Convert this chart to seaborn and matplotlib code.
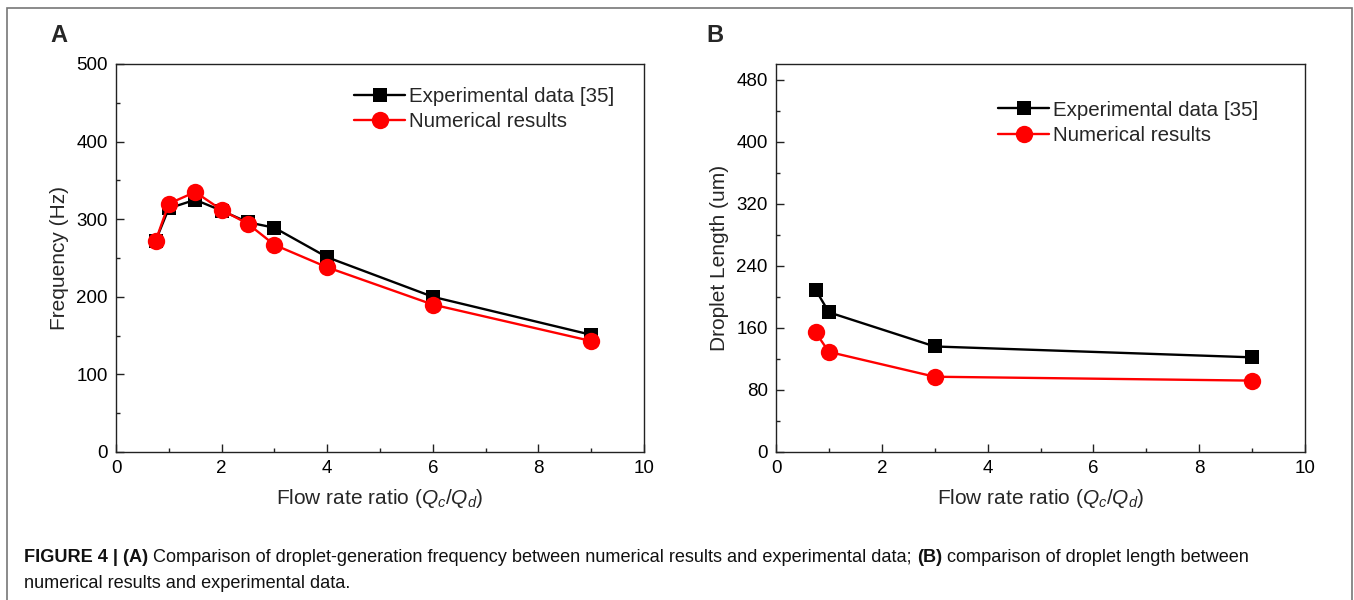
import numpy as np
import pandas as pd
import matplotlib
matplotlib.use("Agg")
import matplotlib.pyplot as plt
from matplotlib.lines import Line2D
from matplotlib.patches import Rectangle
from matplotlib.ticker import MultipleLocator
import seaborn as sns

# -------------------------------
# Data
# -------------------------------
ratio_a = [0.75, 1, 1.5, 2, 2.5, 3, 4, 6, 9]
freq_exp = [272, 314, 325, 311, 296, 289, 251, 200, 151]
freq_num = [272, 320, 335, 312, 294, 267, 238, 190, 143]

ratio_b = [0.75, 1, 3, 9]
length_exp = [209, 180, 136, 122]
length_num = [154, 129, 97, 92]

exp_label = "Experimental data [35]"
num_label = "Numerical results"

# -------------------------------
# Style
# -------------------------------
sns.set_style("ticks")
plt.rcParams["font.family"] = ["Liberation Sans", "DejaVu Sans"]
plt.rcParams["mathtext.fontset"] = "custom"
plt.rcParams["mathtext.rm"] = "Liberation Sans"
plt.rcParams["mathtext.it"] = "Liberation Sans:italic"
plt.rcParams["axes.linewidth"] = 1.0
plt.rcParams["axes.edgecolor"] = "#222222"

colors = {exp_label: "black", num_label: "#ff0000"}
markers = {exp_label: "s", num_label: "o"}
msize = {"s": 10.5, "o": 12.5}

fig = plt.figure(figsize=(13.54, 6.0), dpi=100)
W, H = 1354, 600

# outer figure frame
fig.patches.append(Rectangle((7 / W, -0.01), (1352 - 7) / W, 1 - 8 / H + 0.01,
                             transform=fig.transFigure, fill=False,
                             edgecolor="#777777", linewidth=1.2))


def make_df(x, y_exp, y_num, col):
    return pd.concat([
        pd.DataFrame({"x": x, col: y_exp, "series": exp_label}),
        pd.DataFrame({"x": x, col: y_num, "series": num_label}),
    ], ignore_index=True)


def draw_panel(rect, df, col, ylabel, yticks, yminor, letter, letter_x, leg_anchor):
    ax = fig.add_axes(rect)
    sns.lineplot(data=df, x="x", y=col, hue="series", style="series",
                 palette=colors, markers=markers, dashes=False,
                 markersize=11, markeredgewidth=0, linewidth=1.7,
                 legend=False, ax=ax)
    for ln in ax.lines:
        ln.set_markersize(msize.get(ln.get_marker(), 11))
    ax.set_xlim(0, 10)
    ax.set_ylim(0, 500)
    ax.set_xticks([0, 2, 4, 6, 8, 10])
    ax.xaxis.set_minor_locator(MultipleLocator(1))
    ax.set_yticks(yticks)
    ax.yaxis.set_minor_locator(MultipleLocator(yminor))
    ax.tick_params(which="major", direction="in", length=6, width=1, labelsize=13.5,
                   pad=6, colors="#222222", labelcolor="black")
    ax.tick_params(which="minor", direction="in", length=3, width=1, colors="#222222")
    ax.set_xlabel(r"Flow rate ratio ($Q_c$/$Q_d$)", fontsize=15, labelpad=7)
    ax.set_ylabel(ylabel, fontsize=15, labelpad=5)
    for s in ax.spines.values():
        s.set_visible(True)
    handles = [
        Line2D([], [], color="black", marker="s", markersize=msize["s"], markeredgewidth=0, linewidth=1.7),
        Line2D([], [], color="#ff0000", marker="o", markersize=msize["o"], markeredgewidth=0, linewidth=1.7),
    ]
    ax.legend(handles, [exp_label, num_label], loc="upper right", bbox_to_anchor=leg_anchor,
              frameon=False, fontsize=14.8, handlelength=2.5, handletextpad=0.2,
              labelspacing=0.3, borderaxespad=0)
    fig.text(letter_x / W, 1 - 36 / H, letter, fontsize=17, fontweight="bold",
             ha="left", va="center")
    return ax


ax_a = draw_panel([116 / W, 1 - 452 / H, (644 - 116) / W, (452 - 64) / H],
                  make_df(ratio_a, freq_exp, freq_num, "freq"), "freq",
                  "Frequency (Hz)", [0, 100, 200, 300, 400, 500], 50, "A", 50,
                  (0.96, 0.962))
ax_b = draw_panel([776 / W, 1 - 452 / H, (1305 - 776) / W, (452 - 64) / H],
                  make_df(ratio_b, length_exp, length_num, "length"), "length",
                  "Droplet Length (um)", [0, 80, 160, 240, 320, 400, 480], 40, "B", 706,
                  (0.928, 0.927))

# -------------------------------
# Caption with mixed bold / regular runs
# -------------------------------
cap_size = 13.1
cap_color = "#111111"
runs = [("FIGURE 4 | (A)", "bold"),
        (" Comparison of droplet-generation frequency between numerical results and experimental data; ", "normal"),
        ("(B)", "bold"),
        (" comparison of droplet length between", "normal")]
prev = fig.text(24 / W, 1 - 557 / H, runs[0][0], fontsize=cap_size, fontweight=runs[0][1],
                ha="left", va="center", color=cap_color)
for txt, wt in runs[1:]:
    prev = ax_a.annotate(txt, xy=(1, 0.5), xycoords=prev, va="center", ha="left",
                         fontsize=cap_size, fontweight=wt, color=cap_color,
                         annotation_clip=False)
fig.text(24 / W, 1 - 583 / H, "numerical results and experimental data.", fontsize=cap_size,
         ha="left", va="center", color=cap_color)

fig.savefig("out.png", dpi=100)
